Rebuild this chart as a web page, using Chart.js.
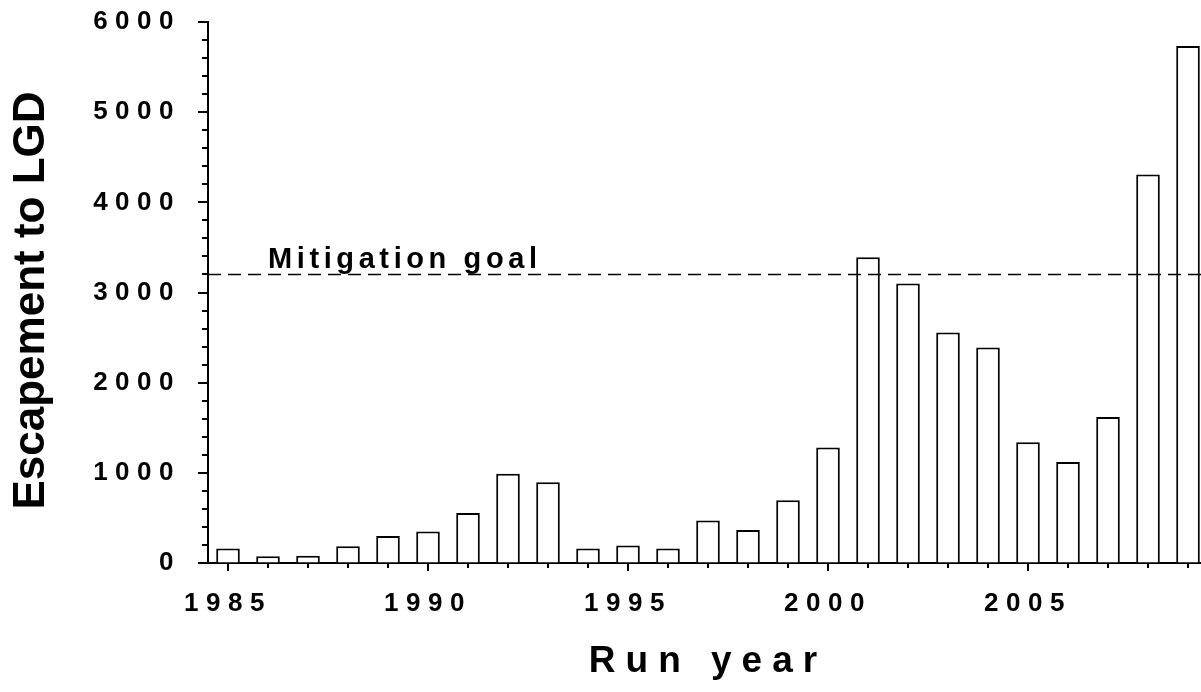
<!DOCTYPE html>
<html>
<head>
<meta charset="utf-8">
<title>Escapement to LGD by run year</title>
<script src="https://cdn.jsdelivr.net/npm/chart.js@4/dist/chart.umd.min.js"></script>
<style>
  html, body { margin: 0; padding: 0; background: #fff; overflow: hidden; }
  #wrap { width: 1208px; height: 692px; }
</style>
</head>
<body>
<div id="wrap"><canvas id="chart"></canvas></div>
<script>
// Data
const YEARS = [1985, 1986, 1987, 1988, 1989, 1990, 1991, 1992, 1993, 1994,
  1995, 1996, 1997, 1998, 1999, 2000, 2001, 2002, 2003, 2004,
  2005, 2006, 2007, 2008, 2009];
const ESCAPEMENT = [160, 75, 80, 185, 300, 350, 555, 990, 895, 160,
  195, 160, 470, 365, 695, 1280, 3390, 3100, 2555, 2390,
  1340, 1120, 1620, 4310, 5735];
const Y_TICKS = [0, 1000, 2000, 3000, 4000, 5000, 6000];
const Y_MINOR_STEP = 200;
const X_LABEL_EVERY = 5;
const GOAL = 3200;
const GOAL_LABEL = 'Mitigation goal';

const FONT = 'Arial, "Liberation Sans", sans-serif';

// Chart.js has no letter-spacing option, so wrap the scale drawing calls
function spaced(fn, spacing, dy) {
  return function (...args) {
    const ctx = this.ctx;
    const prev = ctx.letterSpacing;
    ctx.save();
    ctx.translate(0, dy || 0);
    ctx.letterSpacing = spacing;
    fn.apply(this, args);
    ctx.restore();
    ctx.letterSpacing = prev;
  };
}

const letterSpacing = {
  id: 'letterSpacing',
  beforeDraw(chart) {
    const { x, y } = chart.scales;
    if (x._spaced) return;
    x.drawLabels = spaced(x.drawLabels, '7.5px');
    x.drawTitle = spaced(x.drawTitle, '10px');
    y.drawLabels = spaced(y.drawLabels, '7.5px');
    // the original title sits a little below the middle of the axis
    y.drawTitle = spaced(y.drawTitle, '0px', 8);
    x._spaced = true;
  }
};

// Major and minor tick marks, dashed goal line and its label
const decorations = {
  id: 'decorations',
  afterDatasetsDraw(chart) {
    const { ctx, chartArea, scales: { y } } = chart;
    const gy = Math.round(y.getPixelForValue(GOAL)) + 0.5;
    ctx.save();
    ctx.strokeStyle = '#000';
    ctx.lineWidth = 1.4;
    ctx.setLineDash([13, 7]);
    ctx.beginPath();
    ctx.moveTo(chartArea.left, gy);
    ctx.lineTo(chartArea.right, gy);
    ctx.stroke();
    ctx.setLineDash([]);
    ctx.fillStyle = '#000';
    ctx.font = 'bold 29px ' + FONT;
    ctx.letterSpacing = '4.6px';
    ctx.textAlign = 'left';
    ctx.textBaseline = 'alphabetic';
    ctx.fillText(GOAL_LABEL, chartArea.left + 60, gy - 7);
    ctx.restore();
  },
  afterDraw(chart) {
    const { ctx, chartArea, scales: { x, y } } = chart;
    ctx.save();
    ctx.strokeStyle = '#000';
    ctx.lineWidth = 2;
    ctx.beginPath();
    const yMax = Y_TICKS[Y_TICKS.length - 1];
    for (let v = 0; v <= yMax; v += Y_MINOR_STEP) {
      const py = Math.round(y.getPixelForValue(v));
      const len = Y_TICKS.includes(v) ? 10 : 6;
      ctx.moveTo(chartArea.left - len, py);
      ctx.lineTo(chartArea.left, py);
    }
    YEARS.forEach((yr, i) => {
      const px = Math.round(x.getPixelForValue(i));
      const len = yr % X_LABEL_EVERY === 0 ? 8 : 5;
      ctx.moveTo(px, chartArea.bottom);
      ctx.lineTo(px, chartArea.bottom + len);
    });
    ctx.stroke();
    ctx.restore();
  }
};

// Invisible grid ticks only push the labels away from the axis
const hiddenGrid = {
  display: true,
  drawOnChartArea: false,
  drawTicks: true,
  tickColor: 'rgba(0,0,0,0)'
};

const chart = new Chart(document.getElementById('chart'), {
  type: 'bar',
  data: {
    labels: YEARS.map(String),
    datasets: [{
      data: ESCAPEMENT,
      backgroundColor: '#fff',
      borderColor: '#000',
      borderWidth: 2,
      barPercentage: 0.59,
      categoryPercentage: 1
    }]
  },
  options: {
    responsive: true,
    maintainAspectRatio: false,
    animation: false,
    layout: { padding: { top: 22, right: 0, left: 0, bottom: 0 } },
    plugins: {
      legend: { display: false },
      tooltip: { enabled: false }
    },
    scales: {
      x: {
        offset: true,
        grid: Object.assign({ tickLength: 25 }, hiddenGrid),
        border: { display: true, color: '#000', width: 2 },
        ticks: {
          autoSkip: false,
          maxRotation: 0,
          padding: 0,
          color: '#000',
          font: { family: FONT, size: 26, weight: 'bold' },
          callback: (value, index) => (YEARS[index] % X_LABEL_EVERY === 0 ? String(YEARS[index]) : '')
        },
        title: {
          display: true,
          text: 'Run year',
          color: '#000',
          font: { family: FONT, size: 37, weight: 'bold' },
          padding: { top: 0, bottom: 8 }
        },
        afterFit: (scale) => { scale.height = 129; }
      },
      y: {
        min: 0,
        max: Y_TICKS[Y_TICKS.length - 1],
        grid: Object.assign({ tickLength: 27 }, hiddenGrid),
        border: { display: true, color: '#000', width: 2 },
        afterBuildTicks: (scale) => { scale.ticks = Y_TICKS.map(v => ({ value: v })); },
        ticks: {
          padding: 0,
          color: '#000',
          font: { family: FONT, size: 26, weight: 'bold' },
          callback: (value) => String(value)
        },
        title: {
          display: true,
          text: 'Escapement to LGD',
          color: '#000',
          font: { family: FONT, size: 44, weight: 'bold' },
          padding: { top: 5, bottom: 0 }
        },
        afterFit: (scale) => { scale.width = 208; }
      }
    }
  },
  plugins: [letterSpacing, decorations]
});
</script>
</body>
</html>
